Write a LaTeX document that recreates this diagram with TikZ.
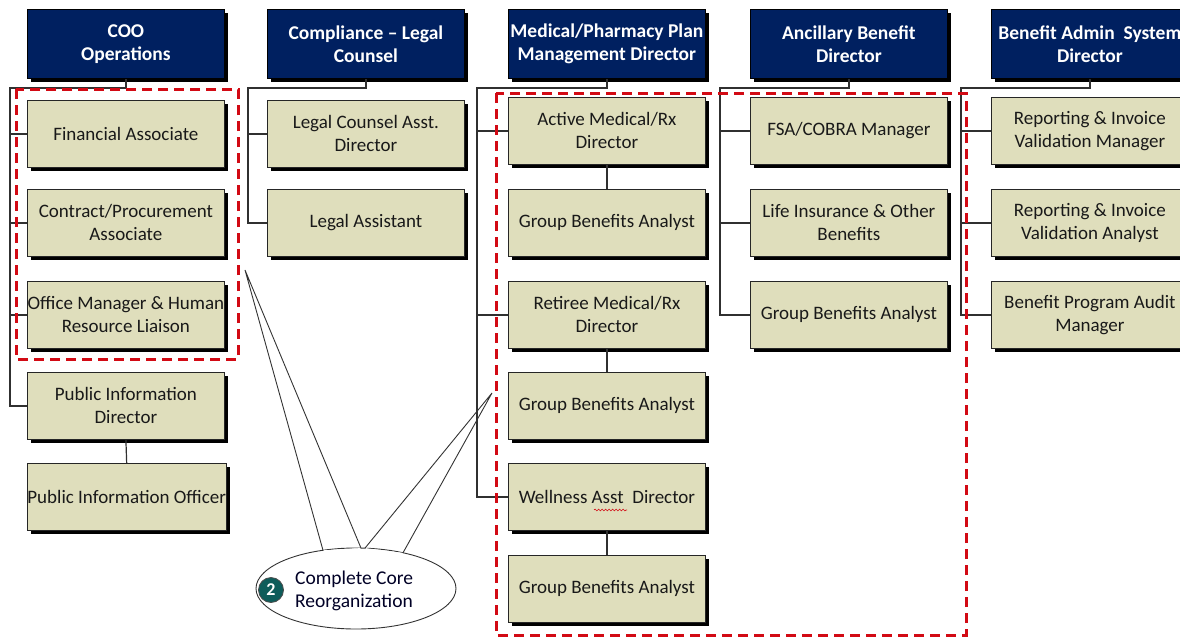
\documentclass[tikz,border=0pt]{standalone}
\usepackage{fontspec}
\setmainfont{Carlito}
\usetikzlibrary{shadows,decorations.pathmorphing}
\definecolor{navy}{HTML}{002060}
\definecolor{beige}{HTML}{DFDEBC}
\definecolor{redd}{HTML}{D20A14}
\definecolor{tealc}{HTML}{0E5C5A}
\definecolor{connc}{HTML}{303030}
\begin{document}
\begin{tikzpicture}[x=1pt,y=-1pt,
  shad/.style={drop shadow={shadow xshift=4pt,shadow yshift=-4pt,fill=black,opacity=1}},
  hdr/.style={shad,rectangle,draw=black,line width=0.8pt,fill=navy,text=white,
    font=\fontsize{19.5}{23}\selectfont\bfseries,align=center,
    minimum width=197pt,minimum height=69pt,inner sep=0pt,anchor=north west},
  box/.style={shad,rectangle,draw=black!85,line width=0.8pt,fill=beige,text=black!90,
    font=\fontsize{19}{23}\selectfont,align=center,
    minimum width=197pt,minimum height=67pt,inner sep=0pt,anchor=north west},
  link/.style={draw=connc,line width=1.2pt},
  redbox/.style={draw=redd,line width=3pt,dash pattern=on 10pt off 6pt},
  callline/.style={draw=black!80,line width=0.9pt},
]
\path[use as bounding box,clip] (0,0) rectangle (1180,637);

% headers
\node[hdr] (coo)  at (27,9)  {COO\\Operations};
\node[hdr] (comp) at (267,9) {Compliance -- Legal\\Counsel};
\node[hdr] (med)  at (508,9) {Medical/Pharmacy Plan\\Management Director};
\node[hdr] (anc)  at (750,9) {Ancillary Benefit\\Director};
\node[hdr] (bas)  at (991,9) {Benefit Admin\ \ System\\Director};

% bus coordinates
\coordinate (b1) at (10,88);
\coordinate (b2) at (248,88);
\coordinate (b3) at (477,88);
\coordinate (b4) at (720,88);
\coordinate (b5) at (961,88);

% column 1
\node[box] (fin) at (27,100) {Financial Associate};
\node[box] (con) at (27,189) {Contract/Procurement\\Associate};
\node[box] (off) at (27,281) {Office Manager \& Human\\Resource Liaison};
\node[box] (pid) at (27,372) {Public Information\\Director};
\node[box] (pio) at (27,463) {Public Information Officer};

% column 2
\node[box] (lca) at (267,100) {Legal Counsel Asst.\\Director};
\node[box] (la)  at (267,189) {Legal Assistant};

% column 3
\node[box] (amd)  at (508,97)  {Active Medical/Rx\\Director};
\node[box] (gba1) at (508,189) {Group Benefits Analyst};
\node[box] (rmd)  at (508,281) {Retiree Medical/Rx\\Director};
\node[box] (gba2) at (508,372) {Group Benefits Analyst};
\node[box] (wad)  at (508,463) {Wellness Asst\ \ Director};
\node[box] (gba3) at (508,555) {Group Benefits Analyst};

% column 4
\node[box] (fsa)  at (750,97)  {FSA/COBRA Manager};
\node[box] (lio)  at (750,189) {Life Insurance \& Other\\Benefits};
\node[box] (gba4) at (750,281) {Group Benefits Analyst};

% column 5
\node[box] (riv) at (991,97)  {Reporting \& Invoice\\Validation Manager};
\node[box] (ria) at (991,189) {Reporting \& Invoice\\Validation Analyst};
\node[box] (bpa) at (991,281) {Benefit Program Audit\\Manager};

% connectors
\draw[link] (coo.south) |- (b1) |- (pid.west);
\foreach \n in {fin,con,off} \draw[link] (b1 |- \n.west) -- (\n.west);
\draw[link] (pid.south) -- (pio.north);

\draw[link] (comp.south) |- (b2) |- (la.west);
\draw[link] (b2 |- lca.west) -- (lca.west);

\draw[link] (med.south) |- (b3) |- (wad.west);
\foreach \n in {amd,rmd} \draw[link] (b3 |- \n.west) -- (\n.west);
\draw[link] (amd.south) -- (gba1.north);
\draw[link] (rmd.south) -- (gba2.north);
\draw[link] (wad.south) -- (gba3.north);

\draw[link] (anc.south) |- (b4) |- (gba4.west);
\foreach \n in {fsa,lio} \draw[link] (b4 |- \n.west) -- (\n.west);

\draw[link] (bas.south) |- (b5) |- (bpa.west);
\foreach \n in {riv,ria} \draw[link] (b5 |- \n.west) -- (\n.west);

% red dashed groups
\draw[redbox] (16,89) rectangle (238,359);
\draw[redbox] (496,93) rectangle (966,635);

% spell-check squiggle
\draw[redd,line width=0.6pt,decorate,decoration={snake,amplitude=0.9pt,segment length=3.5pt}] (594,510) -- (627,510);

% callout
\coordinate (t1) at (245,270);
\coordinate (t2) at (492,393);
\draw[callline,fill=white] (356,588.5) ellipse [x radius=100,y radius=40.5];
\fill[white] (323.5,550.3) -- (360.5,548.1) -- (360.5,556) -- (323.5,558) -- cycle;
\fill[white] (365.5,548.1) -- (402.5,552.8) -- (402.5,560) -- (365.5,556) -- cycle;
\draw[callline] (323,550.3) -- (t1) -- (361,548.1);
\draw[callline] (365,548.1) -- (t2) -- (403,552.8);
\node[circle,fill=tealc,draw=black!70,line width=0.8pt,minimum size=25pt,inner sep=0pt,
  text=white,font=\fontsize{18}{18}\selectfont\bfseries] (num) at (271,590) {2};
\node[anchor=west,align=left,inner sep=0pt,font=\fontsize{19.5}{23}\selectfont,text=black!85!blue]
  (ctext) at (295,591) {Complete Core\\Reorganization};
\end{tikzpicture}
\end{document}
